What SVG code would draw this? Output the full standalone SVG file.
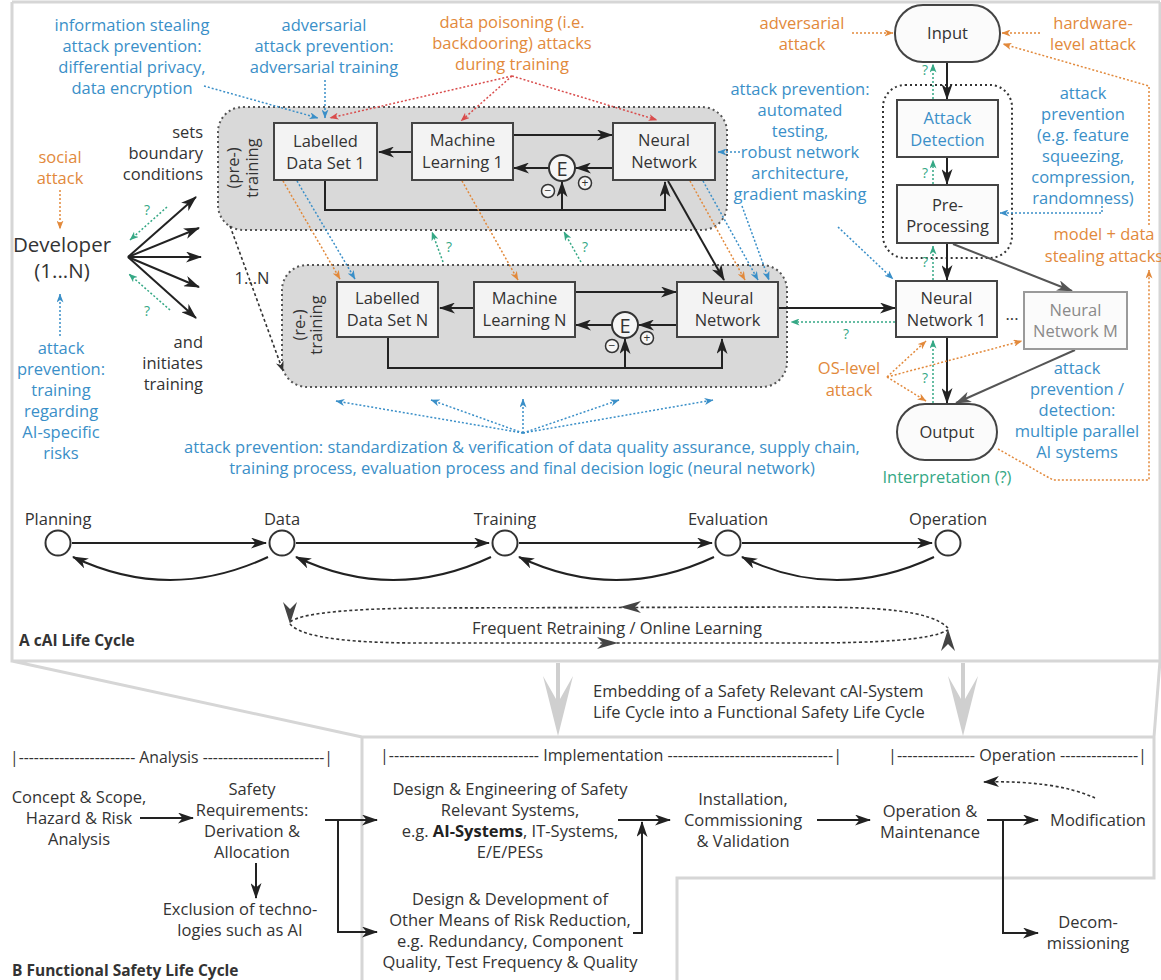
<svg xmlns="http://www.w3.org/2000/svg" width="1161" height="980" viewBox="0 0 1161 980">
<defs>
<style>
text{font-family:"Open Sans","Noto Sans","Liberation Sans",sans-serif;font-size:16.5px;fill:#333;text-anchor:middle}
.o{fill:#e2893b}.b{fill:#3a8fc8}.g{fill:#35a885}.gr{fill:#8a8a8a}
.s{text-anchor:start}.e{text-anchor:end}.bd{font-weight:bold}
.q{font-size:14px;fill:#35a885}
.box{fill:#f3f3f3;stroke:#444;stroke-width:2}
.boxw{fill:#fbfbfb;stroke:#444;stroke-width:2}
.boxm{fill:#fbfbfb;stroke:#9a9a9a;stroke-width:2}
.area{fill:#d9d9d9;stroke:#555;stroke-width:2;stroke-dasharray:2 3}
.encl{fill:none;stroke:#333;stroke-width:2;stroke-dasharray:2 3}
.k{stroke:#222;stroke-width:2;fill:none}
.kg{stroke:#555;stroke-width:2;fill:none}
.dO{stroke:#e2893b;stroke-width:1.5;stroke-dasharray:2 2;fill:none}
.dB{stroke:#3a8fc8;stroke-width:1.5;stroke-dasharray:2 2;fill:none}
.dG{stroke:#35a885;stroke-width:1.5;stroke-dasharray:2 2;fill:none}
.dR{stroke:#d94c4c;stroke-width:1.5;stroke-dasharray:2 2;fill:none}
.dK{stroke:#333;stroke-width:1.6;stroke-dasharray:3 2.5;fill:none}
.fr{stroke:#d6d6d6;stroke-width:3;fill:none}
.big{fill:#cfcfcf}
.lc{fill:#fff;stroke:#333;stroke-width:2}
.ec{fill:#f6f6f6;stroke:#333;stroke-width:2}
.pm{fill:#f6f6f6;stroke:#333;stroke-width:1.5}
.hd{fill:#444}
</style>
<marker id="aK" markerUnits="userSpaceOnUse" viewBox="0 0 16 11" refX="15" refY="5.5" markerWidth="16" markerHeight="11" orient="auto"><path d="M0,0 L16,5.5 L0,11 L4.5,5.5 Z" fill="#222"/></marker>
<marker id="aKg" markerUnits="userSpaceOnUse" viewBox="0 0 16 11" refX="15" refY="5.5" markerWidth="16" markerHeight="11" orient="auto"><path d="M0,0 L16,5.5 L0,11 L4.5,5.5 Z" fill="#555"/></marker>
<marker id="aO" markerUnits="userSpaceOnUse" viewBox="0 0 9 7" refX="8.5" refY="3.5" markerWidth="9" markerHeight="7" orient="auto"><path d="M0,0 L9,3.5 L0,7 L2.5,3.5 Z" fill="#e2893b"/></marker>
<marker id="aB" markerUnits="userSpaceOnUse" viewBox="0 0 9 7" refX="8.5" refY="3.5" markerWidth="9" markerHeight="7" orient="auto"><path d="M0,0 L9,3.5 L0,7 L2.5,3.5 Z" fill="#3a8fc8"/></marker>
<marker id="aG" markerUnits="userSpaceOnUse" viewBox="0 0 9 7" refX="8.5" refY="3.5" markerWidth="9" markerHeight="7" orient="auto"><path d="M0,0 L9,3.5 L0,7 L2.5,3.5 Z" fill="#35a885"/></marker>
<marker id="aR" markerUnits="userSpaceOnUse" viewBox="0 0 9 7" refX="8.5" refY="3.5" markerWidth="9" markerHeight="7" orient="auto"><path d="M0,0 L9,3.5 L0,7 L2.5,3.5 Z" fill="#d94c4c"/></marker>
<marker id="aKs" markerUnits="userSpaceOnUse" viewBox="0 0 10 8" refX="9.5" refY="4" markerWidth="10" markerHeight="8" orient="auto"><path d="M0,0 L10,4 L0,8 L3,4 Z" fill="#333"/></marker>
</defs>
<rect width="1161" height="980" fill="#fff"/>

<g id="frames">
<path class="fr" d="M12,2 H1160 M12,2 V661 H1160 M1160,2 V661 M12,661 L362,737 V980 M362,737 H1154 V878 H677 V980 M1160,661 L1154,737"/>
<path class="big" d="M556,663 H560 V699 L573,676 L558,736 L543,676 L556,699 Z"/>
<path class="big" d="M961,663 H965 V699 L978,676 L963,736 L948,676 L961,699 Z"/>
</g>

<g id="training-areas">
<rect class="area" x="218" y="107" width="509" height="123" rx="25"/>
<text transform="translate(239,168) rotate(-90)">(pre-)</text>
<text transform="translate(258,168) rotate(-90)">training</text>
<rect class="area" x="282" y="265" width="505" height="122" rx="25"/>
<text transform="translate(305,325) rotate(-90)">(re-)</text>
<text transform="translate(322,325) rotate(-90)">training</text>
<rect class="encl" x="883" y="85" width="129" height="173" rx="22"/>
</g>

<g id="connectors">
<path class="k" d="M412,152 H379" marker-end="url(#aK)"/>
<path class="k" d="M513,135 H612" marker-end="url(#aK)"/>
<path class="k" d="M613,168 H576" marker-end="url(#aK)"/>
<path class="k" d="M549,168 H514" marker-end="url(#aK)"/>
<path class="k" d="M325,180 V210 H665 V182" marker-end="url(#aK)"/>
<path class="k" d="M562,210 V182" marker-end="url(#aK)"/>
<path class="k" d="M474,308 H440" marker-end="url(#aK)"/>
<path class="k" d="M575,292 H676" marker-end="url(#aK)"/>
<path class="k" d="M677,325 H639" marker-end="url(#aK)"/>
<path class="k" d="M612,325 H576" marker-end="url(#aK)"/>
<path class="k" d="M388,337 V368 H722 V339" marker-end="url(#aK)"/>
<path class="k" d="M625,368 V339" marker-end="url(#aK)"/>
<path class="k" d="M668,181 L724,280" marker-end="url(#aK)"/>
<path class="dO" d="M283,181 L340,279" marker-end="url(#aO)"/>
<path class="dO" d="M462,181 L518,280" marker-end="url(#aO)"/>
<path class="dO" d="M690,181 L745,280" marker-end="url(#aO)"/>
<path class="dB" d="M297,181 L355,279" marker-end="url(#aB)"/>
<path class="dB" d="M703,181 L758,280" marker-end="url(#aB)"/>
<path class="dB" d="M742,206 L769,280" marker-end="url(#aB)"/>
<path class="dG" d="M443,262 L432,232" marker-end="url(#aG)"/>
<path class="dG" d="M581,262 L564,232" marker-end="url(#aG)"/>
<path class="dB" d="M204,86 L318,118" marker-end="url(#aB)"/>
<path class="dB" d="M325,80 V118" marker-end="url(#aB)"/>
<path class="dR" d="M512,76 L330,118" marker-end="url(#aR)"/>
<path class="dR" d="M512,76 L461,121" marker-end="url(#aR)"/>
<path class="dR" d="M512,76 L657,120" marker-end="url(#aR)"/>
<path class="dB" d="M740,152 H718" marker-end="url(#aB)"/>
<path class="k" d="M128,257 L196,197" marker-end="url(#aK)"/>
<path class="k" d="M128,257 L199,228" marker-end="url(#aK)"/>
<path class="k" d="M128,257 L201,257" marker-end="url(#aK)"/>
<path class="k" d="M128,257 L199,287" marker-end="url(#aK)"/>
<path class="k" d="M128,257 L196,318" marker-end="url(#aK)"/>
<path class="dG" d="M167,207 L130,240" marker-end="url(#aG)"/>
<path class="dG" d="M170,310 L129,274" marker-end="url(#aG)"/>
<path class="dO" d="M60,190 V229" marker-end="url(#aO)"/>
<path class="dB" d="M60,336 V294" marker-end="url(#aB)"/>
<path class="dK" d="M230,226 L283,371" marker-end="url(#aKs)"/>
<path class="dB" d="M523,433 L336,401" marker-end="url(#aB)"/>
<path class="dB" d="M523,433 L431,400" marker-end="url(#aB)"/>
<path class="dB" d="M523,433 V399" marker-end="url(#aB)"/>
<path class="dB" d="M523,433 L619,400" marker-end="url(#aB)"/>
<path class="dB" d="M523,433 L713,400" marker-end="url(#aB)"/>
<path class="k" d="M778,308 H895" marker-end="url(#aK)"/>
<path class="dG" d="M895,322 H791" marker-end="url(#aG)"/>
<path class="k" d="M947,62 V99" marker-end="url(#aK)"/>
<path class="k" d="M947,157 V184" marker-end="url(#aK)"/>
<path class="k" d="M947,243 V280" marker-end="url(#aK)"/>
<path class="k" d="M947,337 V403" marker-end="url(#aK)"/>
<path class="kg" d="M953,244 L1072,291" marker-end="url(#aKg)"/>
<path class="kg" d="M1075,350 L956,403" marker-end="url(#aKg)"/>
<path class="dG" d="M933,99 V64" marker-end="url(#aG)"/>
<path class="dG" d="M933,184 V160" marker-end="url(#aG)"/>
<path class="dG" d="M933,280 V246" marker-end="url(#aG)"/>
<path class="dG" d="M933,403 V340" marker-end="url(#aG)"/>
<path class="dO" d="M852,33 H893" marker-end="url(#aO)"/>
<path class="dO" d="M1040,33 H1002" marker-end="url(#aO)"/>
<path class="dO" d="M1149,225 V86 L1003,44" marker-end="url(#aO)"/>
<path class="dO" d="M998,449 L1053,480 H1149 V270" marker-end="url(#aO)"/>
<path class="dB" d="M1102,206 V213 H1000" marker-end="url(#aB)"/>
<path class="dB" d="M838,227 L893,279" marker-end="url(#aB)"/>
<path class="dO" d="M887,377 L926,341" marker-end="url(#aO)"/>
<path class="dO" d="M887,377 L1022,341" marker-end="url(#aO)"/>
<path class="dO" d="M887,377 L926,401" marker-end="url(#aO)"/>
<path class="k" d="M72,543 H266" marker-end="url(#aK)"/>
<path class="k" d="M296,543 H489" marker-end="url(#aK)"/>
<path class="k" d="M519,543 H712" marker-end="url(#aK)"/>
<path class="k" d="M742,543 H932" marker-end="url(#aK)"/>
<path class="k" d="M268,557 Q170,603 73,557" marker-end="url(#aK)"/>
<path class="k" d="M491,557 Q393,603 296,557" marker-end="url(#aK)"/>
<path class="k" d="M714,557 Q616,603 519,557" marker-end="url(#aK)"/>
<path class="k" d="M934,557 Q836,603 742,557" marker-end="url(#aK)"/>
<path class="dK" d="M948,628 C930,610 880,607 800,607 L420,608 C340,609 300,614 290,622"/>
<path class="dK" d="M290,624 C300,636 340,643 420,643 L800,643 C880,643 930,640 948,630"/>
<path class="hd" d="M620,607 L641,601 L635,607 L641,613 Z"/>
<path class="hd" d="M618,643 L597,637 L603,643 L597,649 Z"/>
<path class="hd" d="M290,624 L283,602 L290,609 L297,602 Z"/>
<path class="hd" d="M948,629 L955,651 L948,644 L941,651 Z"/>
<path class="k" d="M140,818 H193" marker-end="url(#aK)"/>
<path class="k" d="M256,863 V898" marker-end="url(#aK)"/>
<path class="k" d="M325,820 H377" marker-end="url(#aK)"/>
<path class="k" d="M338,820 V932 H377" marker-end="url(#aK)"/>
<path class="k" d="M618,820 H670" marker-end="url(#aK)"/>
<path class="k" d="M633,933 H642 V822" marker-end="url(#aK)"/>
<path class="k" d="M817,820 H870" marker-end="url(#aK)"/>
<path class="k" d="M987,820 H1038" marker-end="url(#aK)"/>
<path class="k" d="M1003,820 V933 H1038" marker-end="url(#aK)"/>
<path class="dK" d="M1095,798 Q1055,780 984,782" marker-end="url(#aK)"/>
</g>

<g id="lds1"><rect class="box" x="274" y="123" width="103" height="57"/><text x="325.5" y="147">Labelled</text><text x="325.5" y="169">Data Set 1</text></g>
<g id="ml1"><rect class="box" x="412" y="123" width="101" height="57"/><text x="462.5" y="146">Machine</text><text x="462.5" y="167.5">Learning 1</text></g>
<g id="nn-pre"><rect class="box" x="613" y="123" width="102" height="57"/><text x="664" y="146">Neural</text><text x="664" y="167.5">Network</text></g>
<g id="e1"><circle class="ec" cx="562" cy="168" r="13"/><text x="562" y="175.5" style="font-size:20px">E</text><circle class="pm" cx="548" cy="191" r="6.5"/><text x="548" y="195" style="font-size:12px">−</text><circle class="pm" cx="585" cy="183" r="6.5"/><text x="585" y="187" style="font-size:12px">+</text></g>
<g id="ldsn"><rect class="box" x="337" y="282" width="101" height="55"/><text x="387.5" y="304">Labelled</text><text x="387.5" y="326">Data Set N</text></g>
<g id="mln"><rect class="box" x="474" y="282" width="101" height="55"/><text x="524.5" y="303.5">Machine</text><text x="524.5" y="325.5">Learning N</text></g>
<g id="nn-re"><rect class="box" x="677" y="282" width="101" height="55"/><text x="727.5" y="303.5">Neural</text><text x="727.5" y="325.5">Network</text></g>
<g id="en"><circle class="ec" cx="625" cy="325" r="13"/><text x="625" y="332.5" style="font-size:20px">E</text><circle class="pm" cx="612" cy="346" r="6.5"/><text x="612" y="350" style="font-size:12px">−</text><circle class="pm" cx="647" cy="338" r="6.5"/><text x="647" y="342" style="font-size:12px">+</text></g>

<g id="input"><rect class="boxw" x="895" y="5" width="105" height="57" rx="28"/><text x="947.5" y="38.5">Input</text></g>
<g id="attack-detection"><rect class="boxw" x="897" y="100" width="101" height="57"/><text class="b" x="947.5" y="124">Attack</text><text class="b" x="947.5" y="146">Detection</text></g>
<g id="pre-processing"><rect class="boxw" x="897" y="185" width="101" height="58"/><text x="947.5" y="211">Pre-</text><text x="947.5" y="232">Processing</text></g>
<g id="nn1"><rect class="boxw" x="896" y="281" width="101" height="56"/><text x="946.5" y="303.5">Neural</text><text x="946.5" y="325.5">Network 1</text></g>
<g id="nnm"><rect class="boxm" x="1024" y="292" width="103" height="57"/><text class="gr" x="1075.5" y="315.5">Neural</text><text class="gr" x="1075.5" y="337">Network M</text></g>
<text x="1012" y="320">...</text>
<g id="output"><rect class="boxw" x="897" y="404" width="100" height="56" rx="28"/><text x="947" y="437.5">Output</text></g>

<g id="annotations">
<text class="b" x="132" y="30.5">information stealing</text><text class="b" x="132" y="51.5">attack prevention:</text><text class="b" x="132" y="72.5">differential privacy,</text><text class="b" x="132" y="93.5">data encryption</text>
<text class="b" x="324" y="30.5">adversarial</text><text class="b" x="324" y="51.5">attack prevention:</text><text class="b" x="324" y="72.5">adversarial training</text>
<text class="o" x="512" y="27.5">data poisoning (i.e.</text><text class="o" x="512" y="48.5">backdooring) attacks</text><text class="o" x="512" y="69.5">during training</text>
<text class="o" x="802" y="28.5">adversarial</text><text class="o" x="802" y="49.5">attack</text>
<text class="o" x="1093" y="28.5">hardware-</text><text class="o" x="1093" y="50">level attack</text>
<text class="b" x="800" y="95">attack prevention:</text><text class="b" x="800" y="116">automated</text><text class="b" x="800" y="137">testing,</text><text class="b" x="800" y="158">robust network</text><text class="b" x="800" y="179">architecture,</text><text class="b" x="800" y="200">gradient masking</text>
<text class="b" x="1083" y="98.5">attack</text><text class="b" x="1083" y="119.5">prevention</text><text class="b" x="1083" y="140.5">(e.g. feature</text><text class="b" x="1083" y="161.5">squeezing,</text><text class="b" x="1083" y="182.5">compression,</text><text class="b" x="1083" y="203.5">randomness)</text>
<text class="o" x="1104" y="240">model + data</text><text class="o" x="1104" y="262">stealing attacks</text>
<text class="o" x="849" y="373.5">OS-level</text><text class="o" x="849" y="395.5">attack</text>
<text class="b" x="1077" y="373.5">attack</text><text class="b" x="1077" y="395">prevention /</text><text class="b" x="1077" y="416">detection:</text><text class="b" x="1077" y="437">multiple parallel</text><text class="b" x="1077" y="458">AI systems</text>
<text class="g" x="947" y="482.5">Interpretation (?)</text>
<text class="b" x="522" y="452.5">attack prevention: standardization &amp; verification of data quality assurance, supply chain,</text>
<text class="b" x="522" y="473.5">training process, evaluation process and final decision logic (neural network)</text>
<text class="q" x="449" y="252">?</text><text class="q" x="585" y="252">?</text>
<text class="q" x="147" y="215">?</text><text class="q" x="147" y="316">?</text>
<text class="q" x="846" y="339">?</text>
<text class="q" x="925" y="75">?</text><text class="q" x="925" y="178">?</text><text class="q" x="925" y="267">?</text><text class="q" x="925" y="383">?</text>
</g>

<g id="developer">
<text class="o" x="60" y="162.5">social</text><text class="o" x="60" y="183.5">attack</text>
<text x="62" y="252" style="font-size:20.5px">Developer</text><text x="62" y="278" style="font-size:20.5px">(1...N)</text>
<text class="b" x="61" y="354">attack</text><text class="b" x="61" y="375">prevention:</text><text class="b" x="61" y="396">training</text><text class="b" x="61" y="417">regarding</text><text class="b" x="61" y="438">AI-specific</text><text class="b" x="61" y="459">risks</text>
<text class="e" x="203" y="137.5">sets</text><text class="e" x="203" y="158.5">boundary</text><text class="e" x="203" y="179.5">conditions</text>
<text class="e" x="203" y="347.5">and</text><text class="e" x="203" y="368.5">initiates</text><text class="e" x="203" y="389.5">training</text>
<text x="252" y="283.5">1...N</text>
</g>

<g id="life-cycle">
<g id="lc-planning"><circle class="lc" cx="58" cy="543" r="12.5"/><text x="58" y="525">Planning</text></g>
<g id="lc-data"><circle class="lc" cx="282" cy="543" r="12.5"/><text x="282" y="525">Data</text></g>
<g id="lc-training"><circle class="lc" cx="505" cy="543" r="12.5"/><text x="505" y="525">Training</text></g>
<g id="lc-evaluation"><circle class="lc" cx="728" cy="543" r="12.5"/><text x="728" y="525">Evaluation</text></g>
<g id="lc-operation"><circle class="lc" cx="948" cy="543" r="12.5"/><text x="948" y="525">Operation</text></g>
<text x="617" y="634">Frequent Retraining / Online Learning</text>
<text class="s bd" x="19" y="645.5" style="font-size:15.5px">A cAI Life Cycle</text>
</g>

<g id="embedding">
<text class="s" x="593" y="697">Embedding of a Safety Relevant cAI-System</text>
<text class="s" x="593" y="718">Life Cycle into a Functional Safety Life Cycle</text>
</g>

<g id="functional-safety">
<text class="s" x="10" y="762.5" textLength="323" lengthAdjust="spacingAndGlyphs">|----------------------- Analysis ------------------------|</text>
<text class="s" x="380" y="760.5" textLength="462" lengthAdjust="spacingAndGlyphs">|----------------------------- Implementation --------------------------------|</text>
<text class="s" x="888" y="760.5" textLength="259" lengthAdjust="spacingAndGlyphs">|--------------- Operation ---------------|</text>
<g id="fs-concept"><text x="79" y="803">Concept &amp; Scope,</text><text x="79" y="824">Hazard &amp; Risk</text><text x="79" y="845">Analysis</text></g>
<g id="fs-safety"><text x="252" y="795">Safety</text><text x="252" y="816">Requirements:</text><text x="252" y="837">Derivation &amp;</text><text x="252" y="858">Allocation</text></g>
<g id="fs-exclusion"><text x="240" y="915">Exclusion of techno-</text><text x="240" y="936">logies such as AI</text></g>
<g id="fs-design"><text x="510" y="795">Design &amp; Engineering of Safety</text><text x="510" y="816">Relevant Systems,</text><text x="510" y="837">e.g. <tspan class="bd" style="fill:#222">AI-Systems</tspan>, IT-Systems,</text><text x="510" y="858">E/E/PESs</text></g>
<g id="fs-other"><text x="510" y="905">Design &amp; Development of</text><text x="510" y="926">Other Means of Risk Reduction,</text><text x="510" y="947">e.g. Redundancy, Component</text><text x="510" y="968">Quality, Test Frequency &amp; Quality</text></g>
<g id="fs-install"><text x="743" y="805">Installation,</text><text x="743" y="826">Commissioning</text><text x="743" y="847">&amp; Validation</text></g>
<g id="fs-operation"><text x="930" y="817">Operation &amp;</text><text x="930" y="838">Maintenance</text></g>
<g id="fs-modification"><text x="1098" y="825.5">Modification</text></g>
<g id="fs-decom"><text x="1088" y="928">Decom-</text><text x="1088" y="949">missioning</text></g>
<text class="s bd" x="12" y="975.5" style="font-size:15.5px">B Functional Safety Life Cycle</text>
</g>
</svg>
